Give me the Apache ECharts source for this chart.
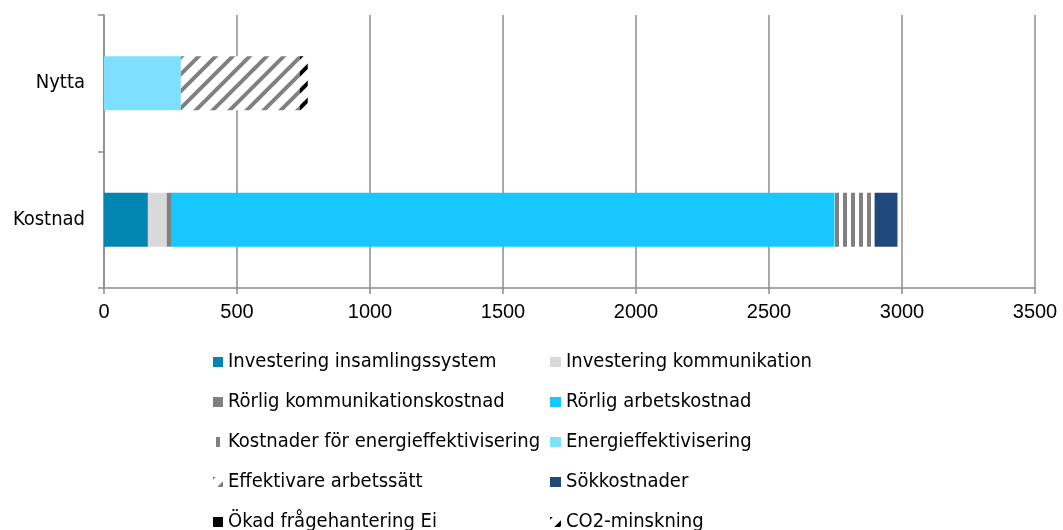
<!DOCTYPE html>
<html lang="sv">
<head>
    <meta charset="UTF-8">
    <title>Kostnad och nytta</title>
    <script src="https://cdn.jsdelivr.net/npm/echarts@6/dist/echarts.min.js"></script>
</head>
<body style="margin:0;width:1063px;height:530px;background:#fff">
    <div id="container" style="width:1063px;height:530px"></div>
</body>
<script>
    var categories = ['Kostnad', 'Nytta'];
    var xTicks = [0, 500, 1000, 1500, 2000, 2500, 3000, 3500];

    var investInsamling = [165, 0];
    var investKomm = [71, 0];
    var rorligKomm = [19, 0];
    var rorligArbete = [2492, 0];
    var kostnEnergi = [150, 0];
    var energieff = [0, 289];
    var effektivare = [0, 447];
    var sokkostnader = [86, 0];
    var okadFraga = [0, 0];
    var co2 = [0, 30];

    // stripe patterns drawn on small canvases
    function diagPattern(color) {
        var c = document.createElement('canvas');
        var p = 17;
        c.width = p; c.height = p;
        var g = c.getContext('2d');
        g.fillStyle = '#fff';
        g.fillRect(0, 0, p, p);
        g.strokeStyle = color;
        g.lineWidth = 4;
        g.beginPath();
        g.moveTo(-2, p + 2); g.lineTo(p + 2, -2);
        g.moveTo(-p / 2 - 2, p / 2 + 2); g.lineTo(p / 2 + 2, -p / 2 - 2);
        g.moveTo(p / 2 - 2, p * 1.5 + 2); g.lineTo(p * 1.5 + 2, p / 2 - 2);
        g.stroke();
        return { image: c, repeat: 'repeat' };
    }
    function vertPattern(color) {
        var c = document.createElement('canvas');
        c.width = 8; c.height = 4;
        var g = c.getContext('2d');
        g.fillStyle = '#fff';
        g.fillRect(0, 0, 8, 4);
        g.fillStyle = color;
        g.fillRect(3, 0, 4, 4);
        return { image: c, repeat: 'repeat' };
    }

    var narrow = '"Liberation Sans Narrow", "DejaVu Sans Condensed", sans-serif';
    var gridColor = '#8c8c8c';

    function bar(name, data, color) {
        return {
            name: name,
            type: 'bar',
            stack: 'total',
            barWidth: 54,
            data: data,
            itemStyle: { color: color },
            emphasis: { disabled: true }
        };
    }

    var leftNames = ['Investering insamlingssystem', 'Rörlig kommunikationskostnad',
        'Kostnader för energieffektivisering', 'Effektivare arbetssätt', 'Ökad frågehantering Ei'];
    var rightNames = ['Investering kommunikation', 'Rörlig arbetskostnad',
        'Energieffektivisering', 'Sökkostnader', 'CO2-minskning'];

    var legendText = { fontFamily: narrow, fontSize: 20, color: '#000', lineHeight: 20 };

    var dom = document.getElementById('container');
    var myChart = echarts.init(dom);
    var option = {
        animation: false,
        grid: { left: 104, right: 28, top: 15, bottom: 242 },
        legend: [{
            orient: 'vertical', left: 213, top: 352, height: 220, padding: 0,
            itemWidth: 10, itemHeight: 10, itemGap: 20, icon: 'rect',
            textStyle: legendText, data: leftNames
        }, {
            orient: 'vertical', left: 550, top: 352, height: 220, padding: 0,
            itemWidth: 11, itemHeight: 10, itemGap: 20, icon: 'rect',
            textStyle: legendText, data: rightNames
        }],
        xAxis: {
            type: 'value',
            min: 0, max: 3500, interval: 500,
            axisLine: { show: true, lineStyle: { color: gridColor, width: 1.5 } },
            axisTick: { show: true, length: 6, lineStyle: { color: gridColor, width: 1.5 } },
            axisLabel: {
                margin: 14, color: '#000', fontSize: 20,
                fontFamily: '"Liberation Sans", Arial, sans-serif',
                formatter: function (v) { return xTicks.indexOf(v) >= 0 ? String(v) : ''; }
            },
            splitLine: { show: true, lineStyle: { color: gridColor, width: 1.5 } }
        },
        yAxis: {
            type: 'category',
            data: categories,
            axisLine: { show: true, lineStyle: { color: gridColor, width: 1.5 } },
            axisTick: { show: true, length: 6, lineStyle: { color: gridColor, width: 1.5 } },
            axisLabel: { margin: 19, color: '#000', fontSize: 20, fontFamily: narrow }
        },
        series: [
            bar('Investering insamlingssystem', investInsamling, '#0086b0'),
            bar('Investering kommunikation', investKomm, '#d9d9d9'),
            bar('Rörlig kommunikationskostnad', rorligKomm, '#808080'),
            bar('Rörlig arbetskostnad', rorligArbete, '#16c8ff'),
            bar('Kostnader för energieffektivisering', kostnEnergi, vertPattern('#808080')),
            bar('Energieffektivisering', energieff, '#7fdfff'),
            bar('Effektivare arbetssätt', effektivare, diagPattern('#808080')),
            bar('Sökkostnader', sokkostnader, '#1f497d'),
            bar('Ökad frågehantering Ei', okadFraga, '#000000'),
            bar('CO2-minskning', co2, diagPattern('#000000'))
        ]
    };
    myChart.setOption(option);
</script>
</html>
